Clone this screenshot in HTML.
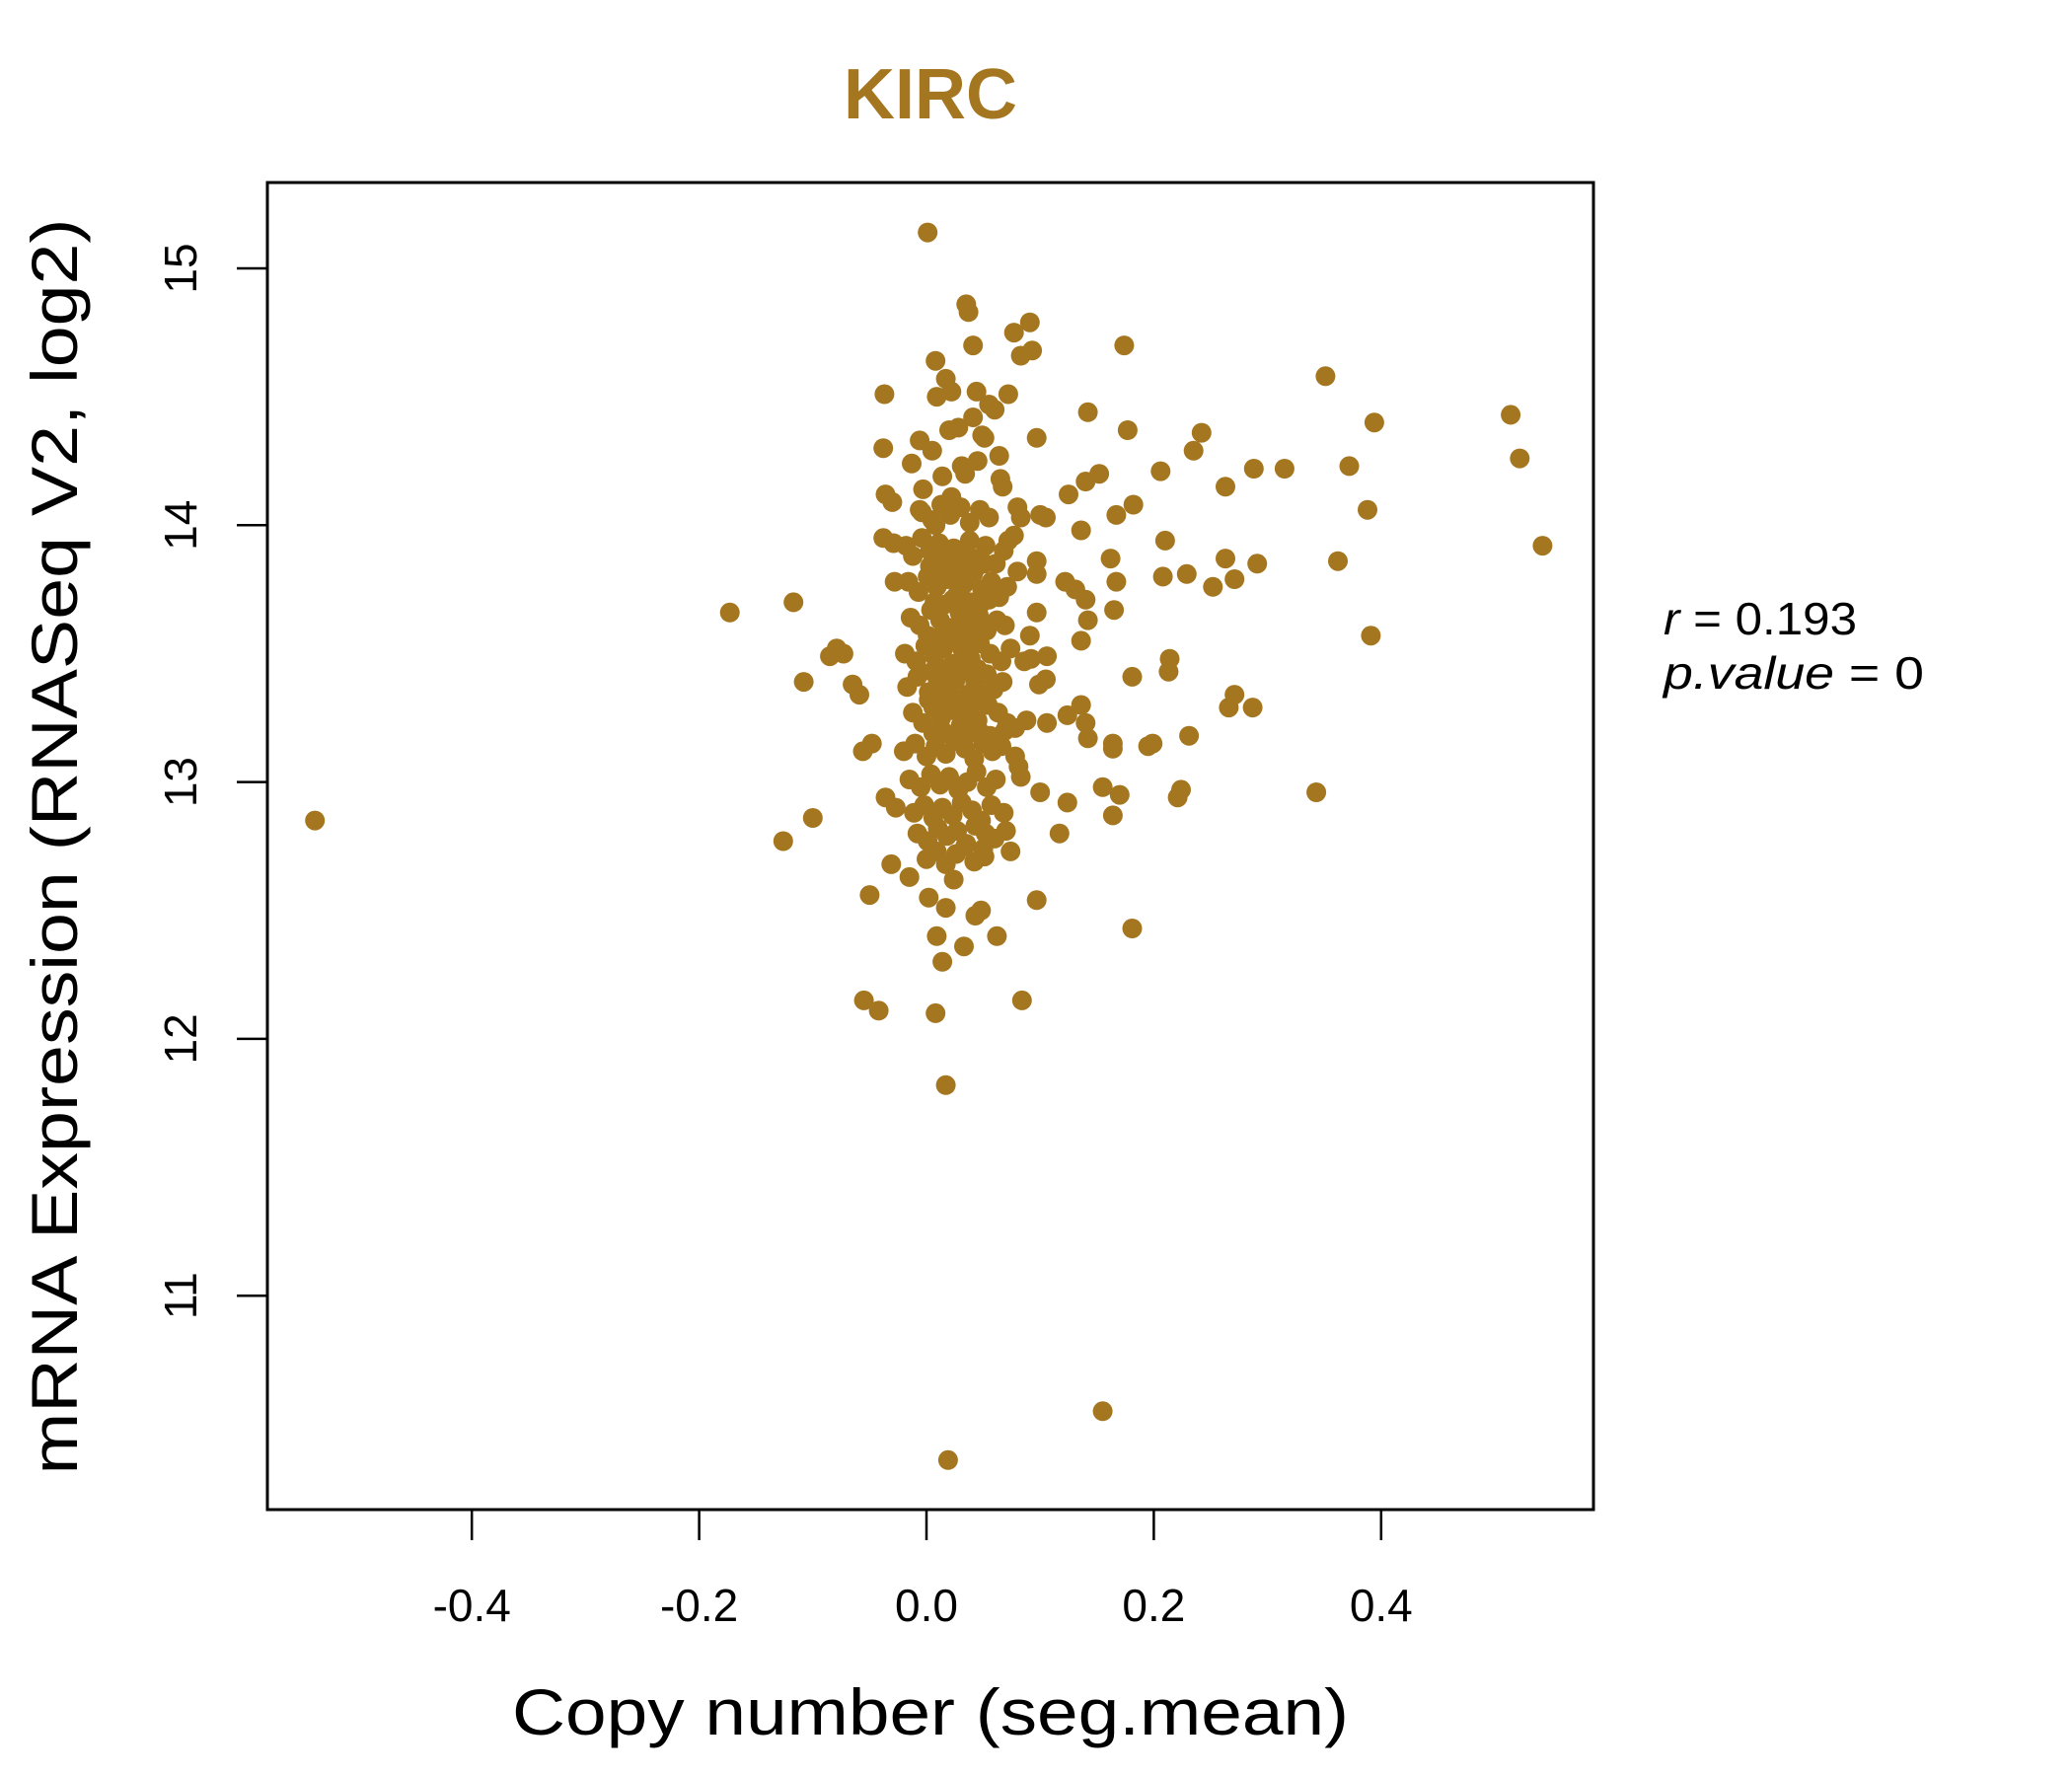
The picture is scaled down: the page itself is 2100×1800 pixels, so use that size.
<!DOCTYPE html>
<html><head><meta charset="utf-8"><style>
html,body{margin:0;padding:0;background:#fff;}
svg{display:block;font-family:"Liberation Sans",Arial,sans-serif;}
</style></head><body>
<svg id="chart" width="2100" height="1800" viewBox="0 0 2100 1800" xmlns="http://www.w3.org/2000/svg">
<text x="943" y="120" text-anchor="middle" font-size="72" font-weight="bold" fill="#A57620">KIRC</text>
<g id="points"></g>
<rect x="271" y="185" width="1344" height="1345" fill="none" stroke="#000" stroke-width="3"/>
<g id="xaxis"></g>
<g id="yaxis"></g>
<text x="943" y="1758" text-anchor="middle" font-size="66" textLength="848" lengthAdjust="spacingAndGlyphs">Copy number (seg.mean)</text>
<text transform="translate(78,858) rotate(-90)" text-anchor="middle" font-size="66" textLength="1273" lengthAdjust="spacingAndGlyphs">mRNA Expression (RNASeq V2, log2)</text>
<text x="1686" y="643" font-size="46" textLength="196" lengthAdjust="spacingAndGlyphs"><tspan font-style="italic">r</tspan> = 0.193</text>
<text x="1686" y="698" font-size="46" textLength="264" lengthAdjust="spacingAndGlyphs"><tspan font-style="italic">p.value</tspan> = 0</text>
</svg>
<script>
const xTicks = [-0.4, -0.2, 0.0, 0.2, 0.4];
const xTickLabels = ["-0.4", "-0.2", "0.0", "0.2", "0.4"];
const yTicks = [11, 12, 13, 14, 15];
const yTickLabels = ["11", "12", "13", "14", "15"];
const copyNumber = [-0.538,-0.173,-0.117,-0.108,-0.126,-0.100,-0.085,-0.079,-0.073,-0.065,-0.059,-0.056,-0.048,-0.055,-0.042,-0.050,-0.037,-0.038,-0.036,-0.030,-0.038,-0.029,-0.028,-0.036,-0.027,-0.031,-0.015,
0.001,0.008,0.035,0.037,0.041,0.017,0.022,0.009,0.044,0.055,0.060,0.072,0.077,0.091,0.083,0.093,0.097,0.142,0.174,0.177,0.152,0.140,0.125,0.100,0.105,0.080,0.067,0.064,0.051,0.083,
0.167,0.182,0.206,0.210,0.136,0.162,0.167,0.208,0.229,0.252,0.263,0.271,0.291,0.235,0.242,0.263,0.288,0.315,0.351,0.372,0.388,0.394,0.362,0.391,0.514,0.522,0.542,0.343,
0.214,0.213,0.181,0.271,0.266,0.287,0.231,0.199,0.195,0.224,0.221,0.164,0.164,0.155,0.170,0.164,0.181,0.155,0.019,0.017,0.008,0.084,0.014,0.033,0.062,0.043,0.048,0.097,0.009,0.024,0.017,0.002,
0.074,0.051,0.070,0.117,0.124,0.100,0.081,0.083,0.106,0.124,0.136,0.140,0.142,0.099,0.105,0.106,0.091,0.097,0.142,0.136,0.165,0.122,0.131,0.140,0.097,0.097,0.080,0.077,0.072,0.092,0.086,0.088,0.078,0.069,0.056,
-0.006,0.005,0.020,0.028,-0.013,-0.003,0.014,0.034,-0.006,0.022,0.008,0.031,0.045,0.065,0.049,0.041,
-0.018,-0.012,-0.004,0.003,0.011,0.016,0.024,0.031,0.038,0.044,0.052,0.061,0.068,
-0.016,-0.007,0.001,0.009,0.018,0.027,0.033,0.041,0.049,0.057,0.064,0.071,
-0.014,-0.006,0.004,0.012,0.021,0.029,0.036,0.046,0.053,0.062,0.069,
-0.019,-0.009,-0.001,0.007,0.015,0.023,0.032,0.039,0.047,0.056,0.066,0.074,
-0.017,-0.008,0.002,0.010,0.019,0.026,0.035,0.043,0.051,0.059,0.067,
-0.012,-0.003,0.006,0.013,0.022,0.030,0.037,0.045,0.054,0.063,0.071,
-0.020,-0.010,0.000,0.008,0.017,0.025,0.034,0.042,0.050,0.058,0.066,0.078,
-0.015,-0.005,0.004,0.012,0.020,0.028,0.036,0.044,0.053,0.061,
-0.011,-0.002,0.006,0.014,0.023,0.031,0.040,0.048,0.057,0.068,
-0.008,0.001,0.010,0.018,0.027,0.035,0.043,0.052,0.060,
-0.004,0.005,0.013,0.021,0.030,0.038,0.047,0.055,
0.000,0.009,0.017,0.026,0.034,0.042,0.050,
0.003,0.011,0.019,0.027,0.035,0.043,0.051,0.007,0.015,0.023,0.031,0.039,0.047,0.055,
0.001,0.009,0.017,0.025,0.033,0.041,0.049,0.005,0.013,0.021,0.029,0.037,0.045,0.053,
0.002,0.010,0.018,0.026,0.034,0.042,0.050,0.006,0.014,0.022,0.030,0.038,0.046,0.054];
const expression = [12.85,13.66,13.70,13.39,12.77,12.86,13.49,13.52,13.50,13.38,13.34,13.12,13.15,12.15,12.11,12.56,14.51,14.30,14.12,14.09,13.95,13.93,13.78,12.94,12.90,12.68,12.63,
15.14,14.64,14.86,14.83,14.70,14.57,14.52,14.50,14.52,14.47,14.45,14.51,14.75,14.79,14.66,14.68,14.34,14.44,14.70,14.37,14.20,14.17,14.12,14.04,14.03,14.07,14.15,14.27,14.34,14.03,
14.04,14.08,14.21,13.94,13.98,13.87,13.78,13.80,13.81,13.76,13.87,13.79,13.85,14.29,14.36,14.15,14.22,14.22,14.58,14.23,14.06,14.40,13.86,13.57,14.43,14.26,13.92,12.96,
13.48,13.43,13.41,13.34,13.29,13.29,13.18,13.15,13.14,12.97,12.94,13.15,13.13,12.98,12.95,12.87,12.43,10.55,10.36,11.82,12.10,12.15,12.30,12.36,12.40,12.48,12.50,12.54,12.40,12.62,12.51,12.55,
12.73,12.71,12.81,12.80,12.92,12.96,13.06,13.02,13.23,13.26,13.30,13.23,13.17,13.38,13.40,13.49,13.57,13.66,13.63,13.55,13.67,13.78,13.75,13.71,13.86,13.81,13.82,13.96,13.94,13.48,13.47,13.24,13.21,13.20,13.18,
14.33,14.29,14.37,14.38,14.24,14.14,14.19,14.20,14.06,14.11,14.00,14.23,14.25,14.18,14.35,14.42,
13.92,13.88,13.95,13.90,13.93,13.86,13.91,13.89,13.94,13.87,13.92,13.85,13.90,
13.78,13.74,13.80,13.76,13.79,13.73,13.77,13.81,13.75,13.78,13.72,13.76,
13.64,13.61,13.67,13.63,13.60,13.66,13.62,13.65,13.59,13.63,13.61,
13.50,13.47,13.53,13.49,13.52,13.46,13.51,13.48,13.54,13.50,13.47,13.52,
13.37,13.41,13.35,13.39,13.36,13.40,13.34,13.38,13.42,13.36,13.39,
13.27,13.23,13.29,13.25,13.28,13.22,13.26,13.24,13.30,13.27,13.23,
13.12,13.15,13.10,13.14,13.11,13.16,13.13,13.09,13.15,13.12,13.14,13.10,
13.01,12.98,13.03,12.99,13.02,12.97,13.00,13.04,12.98,13.01,
12.88,12.91,12.86,12.90,12.87,12.92,12.89,12.85,12.91,12.88,
12.80,12.77,12.82,12.79,12.81,12.76,12.83,12.80,12.78,
14.05,14.02,14.08,14.04,14.07,14.01,14.06,14.03,
12.70,12.73,12.68,12.72,12.75,12.69,12.74,
13.84,13.83,13.85,13.82,13.84,13.83,13.85,13.70,13.69,13.71,13.68,13.70,13.69,13.71,
13.57,13.56,13.58,13.55,13.57,13.56,13.58,13.43,13.44,13.42,13.45,13.43,13.44,13.42,
13.32,13.31,13.33,13.30,13.32,13.31,13.33,13.19,13.20,13.18,13.21,13.19,13.20,13.18];

const NS = "http://www.w3.org/2000/svg";
const X0 = 939, XS = 1152;
const Y0 = 272, YS = 260.3;
const BOX_L = 271, BOX_B = 1530;
function xScale(v){ return X0 + v * XS; }
function yScale(v){ return Y0 + (15 - v) * YS; }

const pts = document.getElementById('points');
for (let i = 0; i < copyNumber.length; i++) {
  const c = document.createElementNS(NS, 'circle');
  c.setAttribute('cx', xScale(copyNumber[i]).toFixed(1));
  c.setAttribute('cy', yScale(expression[i]).toFixed(1));
  c.setAttribute('r', '10');
  c.setAttribute('fill', '#A57620');
  
  
  pts.appendChild(c);
}

const xa = document.getElementById('xaxis');
{
  const l = document.createElementNS(NS, 'line');
  l.setAttribute('x1', xScale(xTicks[0])); l.setAttribute('x2', xScale(xTicks[xTicks.length-1]));
  l.setAttribute('y1', BOX_B); l.setAttribute('y2', BOX_B);
  l.setAttribute('stroke', '#000'); l.setAttribute('stroke-width', '3');
  
  
  xa.appendChild(l);
}
xTicks.forEach((t, i) => {
  const l = document.createElementNS(NS, 'line');
  l.setAttribute('x1', xScale(t)); l.setAttribute('x2', xScale(t));
  l.setAttribute('y1', BOX_B); l.setAttribute('y2', BOX_B + 31);
  l.setAttribute('stroke', '#000'); l.setAttribute('stroke-width', '2.5');
  
  
  xa.appendChild(l);
  const tx = document.createElementNS(NS, 'text');
  tx.setAttribute('x', xScale(t)); tx.setAttribute('y', 1643);
  tx.setAttribute('text-anchor', 'middle'); tx.setAttribute('font-size', '46');
  tx.textContent = xTickLabels[i];
  
  
  xa.appendChild(tx);
});

const ya = document.getElementById('yaxis');
{
  const l = document.createElementNS(NS, 'line');
  l.setAttribute('x1', BOX_L); l.setAttribute('x2', BOX_L);
  l.setAttribute('y1', yScale(yTicks[0])); l.setAttribute('y2', yScale(yTicks[yTicks.length-1]));
  l.setAttribute('stroke', '#000'); l.setAttribute('stroke-width', '3');
  
  
  ya.appendChild(l);
}
yTicks.forEach((t, i) => {
  const y = yScale(t);
  const l = document.createElementNS(NS, 'line');
  l.setAttribute('x1', BOX_L - 31); l.setAttribute('x2', BOX_L);
  l.setAttribute('y1', y); l.setAttribute('y2', y);
  l.setAttribute('stroke', '#000'); l.setAttribute('stroke-width', '2.5');
  
  
  ya.appendChild(l);
  const tx = document.createElementNS(NS, 'text');
  tx.setAttribute('transform', 'translate(199,' + y + ') rotate(-90)');
  tx.setAttribute('text-anchor', 'middle'); tx.setAttribute('font-size', '46');
  tx.textContent = yTickLabels[i];
  
  
  ya.appendChild(tx);
});
</script>
</body></html>
